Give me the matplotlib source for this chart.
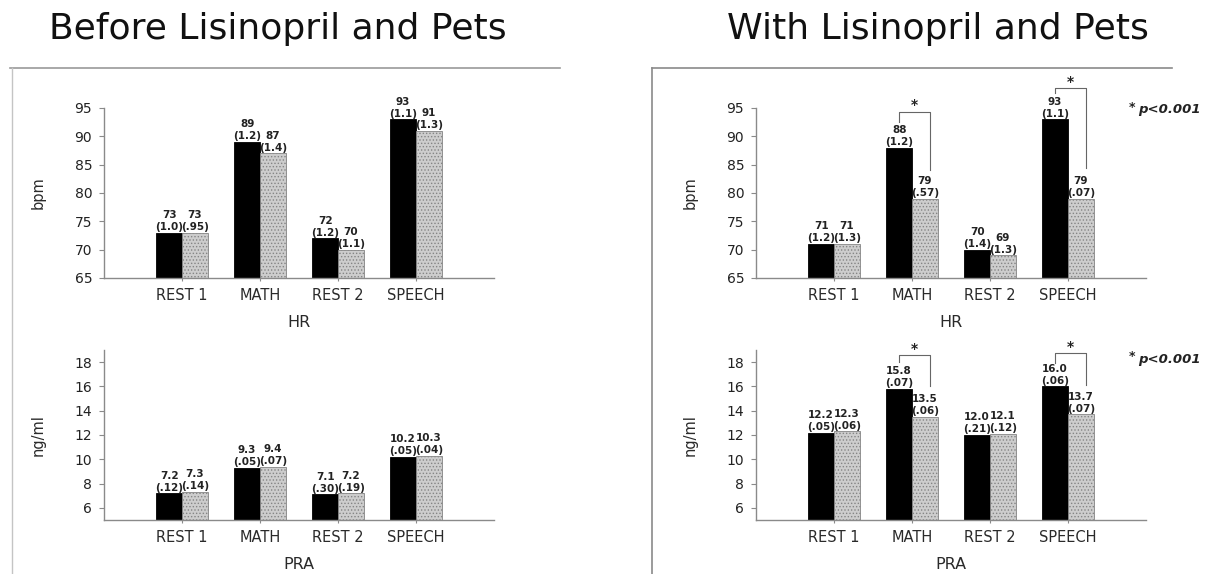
import matplotlib
matplotlib.use('Agg')
import matplotlib.pyplot as plt
from matplotlib.lines import Line2D
import numpy as np

plt.rcParams['font.family'] = ['DejaVu Sans']
plt.rcParams['hatch.linewidth'] = 0.6

# ---- data ----
stages = ['REST 1', 'MATH', 'REST 2', 'SPEECH']

hr_before_ctrl = [73, 89, 72, 93]
hr_before_ctrl_se = ['1.0', '1.2', '1.2', '1.1']
hr_before_pets = [73, 87, 70, 91]
hr_before_pets_se = ['.95', '1.4', '1.1', '1.3']

pra_before_ctrl = [7.2, 9.3, 7.1, 10.2]
pra_before_ctrl_se = ['.12', '.05', '.30', '.05']
pra_before_pets = [7.3, 9.4, 7.2, 10.3]
pra_before_pets_se = ['.14', '.07', '.19', '.04']

hr_with_ctrl = [71, 88, 70, 93]
hr_with_ctrl_se = ['1.2', '1.2', '1.4', '1.1']
hr_with_pets = [71, 79, 69, 79]
hr_with_pets_se = ['1.3', '.57', '1.3', '.07']

pra_with_ctrl = [12.2, 15.8, 12.0, 16.0]
pra_with_ctrl_se = ['.05', '.07', '.21', '.06']
pra_with_pets = [12.3, 13.5, 12.1, 13.7]
pra_with_pets_se = ['.06', '.06', '.12', '.07']

hr_ticks = [65, 70, 75, 80, 85, 90, 95]
pra_ticks = [6, 8, 10, 12, 14, 16, 18]

BAR_W = 0.33
SPINE = '#8a8a8a'
TXT = '#222222'

W, H = 1215, 574
fig = plt.figure(figsize=(W / 100, H / 100), dpi=100, facecolor='white')


def px_rect(left, top, width, height):
    return [left / W, 1 - (top + height) / H, width / W, height / H]


def panel(rect, ctrl, ctrl_se, pets, pets_se, ylim, ticks, ylabel, xlabel, fmt):
    ax = fig.add_axes(rect)
    x = np.arange(len(stages))
    ax.bar(x - BAR_W / 2, ctrl, BAR_W, color='black', edgecolor='black',
           linewidth=0.6)
    ax.bar(x + BAR_W / 2, pets, BAR_W, color='#cdcdcd', edgecolor='#858585',
           hatch='.....', linewidth=0.6)

    for xs, vals, ses in ((x - BAR_W / 2, ctrl, ctrl_se),
                          (x + BAR_W / 2, pets, pets_se)):
        for xi, v, s in zip(xs, vals, ses):
            ax.annotate(f'{v:{fmt}}\n({s})', (xi, v), xytext=(0, 0.5),
                        textcoords='offset points', ha='center', va='bottom',
                        fontsize=7.5, fontweight='bold', color=TXT,
                        linespacing=1.25, annotation_clip=False)

    ax.set_xlim(-1.0, 4.0)
    ax.set_ylim(*ylim)
    ax.set_yticks(ticks)
    ax.set_xticks(x)
    ax.set_xticklabels(stages, fontsize=10.5, color='#2a2a2a')
    ax.tick_params(axis='y', labelsize=10, colors=SPINE, labelcolor=TXT,
                   length=3.5, width=0.8, pad=5)
    ax.tick_params(axis='x', colors=SPINE, labelcolor='#2a2a2a',
                   length=2.5, width=0.8, pad=5)
    for side in ['top', 'right']:
        ax.spines[side].set_visible(False)
    for side in ['left', 'bottom']:
        ax.spines[side].set_color(SPINE)
        ax.spines[side].set_linewidth(1.0)

    ax.set_ylabel(ylabel, fontsize=10.5, color='#2a2a2a')
    ax.yaxis.set_label_coords(-0.15, 0.5)
    ax.set_xlabel(xlabel, fontsize=11.5, color='#2a2a2a')
    ax.xaxis.set_label_coords(0.5, -0.22)
    return ax


def bracket(ax, i, y_top, y_left, y_right, y_star):
    xl = i - BAR_W / 2
    xr = i + BAR_W * 0.68
    ax.plot([xl, xl, xr, xr], [y_left, y_top, y_top, y_right],
            color='#666666', linewidth=0.8, clip_on=False)
    ax.text((xl + xr) / 2, y_star, '*', ha='center', va='center',
            fontsize=10, fontweight='bold', color=TXT, clip_on=False)


# ---- left: Before ----
ax1 = panel(px_rect(104, 108, 390, 170), hr_before_ctrl, hr_before_ctrl_se,
            hr_before_pets, hr_before_pets_se, (65, 95), hr_ticks,
            'bpm', 'HR', '.0f')
ax2 = panel(px_rect(104, 350, 390, 170), pra_before_ctrl, pra_before_ctrl_se,
            pra_before_pets, pra_before_pets_se, (5, 19), pra_ticks,
            'ng/ml', 'PRA', '.1f')

# ---- right: With ----
ax3 = panel(px_rect(756, 108, 390, 170), hr_with_ctrl, hr_with_ctrl_se,
            hr_with_pets, hr_with_pets_se, (65, 95), hr_ticks,
            'bpm', 'HR', '.0f')
ax4 = panel(px_rect(756, 350, 390, 170), pra_with_ctrl, pra_with_ctrl_se,
            pra_with_pets, pra_with_pets_se, (5, 19), pra_ticks,
            'ng/ml', 'PRA', '.1f')

bracket(ax3, 1, 94.3, 92.5, 84.1, 95.6)
bracket(ax3, 3, 98.5, 97.6, 84.4, 99.5)
bracket(ax4, 1, 18.6, 18.0, 16.0, 19.1)
bracket(ax4, 3, 18.75, 17.9, 16.1, 19.25)

for ax, yy in ((ax3, 0.99), (ax4, 0.945)):
    ax.text(0.955, yy + 0.015, '*', transform=ax.transAxes,
            ha='left', va='center', fontsize=9, fontweight='bold', color=TXT)
    ax.text(0.98, yy, 'p<0.001', transform=ax.transAxes, ha='left',
            va='center', fontsize=9.5, fontweight='bold', fontstyle='italic',
            color=TXT)

# ---- titles ----
fig.text(278 / W, 1 - 29 / H, 'Before Lisinopril and Pets', ha='center',
         va='center', fontsize=26, color='#111111')
fig.text(938 / W, 1 - 29 / H, 'With Lisinopril and Pets', ha='center',
         va='center', fontsize=26, color='#111111')

# ---- panel frames (scanned page boxes) ----
fig.add_artist(Line2D([10 / W, 560 / W], [1 - 68 / H, 1 - 68 / H],
                      color='#9a9a9a', linewidth=1.2))
fig.add_artist(Line2D([12 / W, 12 / W], [1 - 68 / H, 0], color='#c4c4c4',
                      linewidth=1.0))
fig.add_artist(Line2D([652 / W, 1172 / W], [1 - 68 / H, 1 - 68 / H],
                      color='#8a8a8a', linewidth=1.2))
fig.add_artist(Line2D([652 / W, 652 / W], [1 - 68 / H, 0], color='#8a8a8a',
                      linewidth=1.2))

plt.savefig('out.png', dpi=100, facecolor='white')
